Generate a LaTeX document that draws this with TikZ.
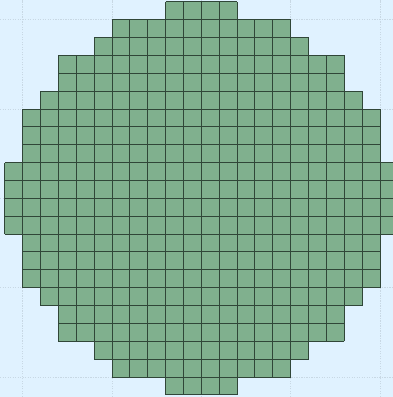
\documentclass[tikz,border=0pt]{standalone}
\definecolor{cellgreen}{RGB}{128,176,142}
\definecolor{cellline}{RGB}{48,70,56}
\definecolor{bgblue}{RGB}{224,242,255}
\definecolor{bgline}{RGB}{200,216,228}
\begin{document}
\begin{tikzpicture}[x=0.5cm,y=0.5cm,
  bggrid/.style={draw=bgline, line width=0.4pt, dash pattern=on 1pt off 1pt},
  cellfill/.style={fill=cellgreen},
  cellgrid/.style={draw=cellline, line width=0.75pt, step=0.5cm}]
\fill[bgblue] (-0.27,-0.12) rectangle (21.72,22.1);
\useasboundingbox (-0.27,-0.12) rectangle (21.72,22.1);
\foreach \v in {1,6,11,16,21} {
  \draw[bggrid] (\v,-0.12) -- (\v,22.1);
  \draw[bggrid] (-0.27,\v) -- (21.72,\v);
}
\foreach \s [count=\r from 0] in {9,6,5,3,3,2,1,1,1,0,0,0,0,1,1,1,2,3,3,5,6,9} {
  \pgfmathtruncatemacro\e{22-\s}
  \pgfmathtruncatemacro\yb{21-\r}
  \fill[cellfill] (\s,\yb) rectangle (\e,\yb+1);
}
\foreach \s [count=\r from 0] in {9,6,5,3,3,2,1,1,1,0,0,0,0,1,1,1,2,3,3,5,6,9} {
  \pgfmathtruncatemacro\e{22-\s}
  \pgfmathtruncatemacro\yb{21-\r}
  \draw[cellgrid] (\s,\yb) grid (\e,\yb+1);
}
\end{tikzpicture}
\end{document}
